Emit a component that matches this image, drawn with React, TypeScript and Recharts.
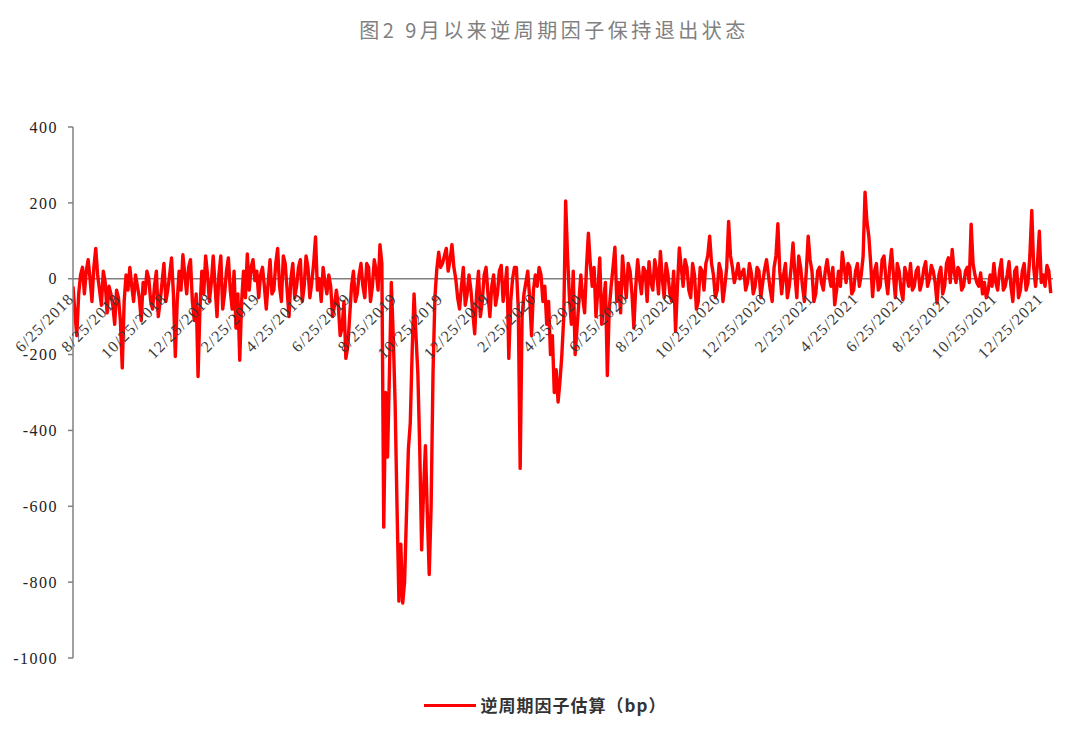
import React from 'react';
import { LineChart, Line, XAxis, YAxis, ReferenceLine, ReferenceDot } from 'recharts';

const chartTitle = '图2 9月以来逆周期因子保持退出状态';
const seriesName = '逆周期因子估算（bp）';
const startDate = '6/25/2018';
const stepDays = 2.5;

// counter-cyclical factor estimate (bp), one reading every 2.5 calendar days from 6/25/2018
const factorValues = [
  -20, -90, -150, -40, 10, 30, -40, 20, 50, 0, -60, 30, 80, 10, -30, -70, 20, -10, -90, -20, -40, -70, -120, -30, -50, -110,
  -235, -60, 10, -30, 30, -20, -60, 10, -20, -50, -110, -10, -40, 20, 0, -60, -80, -20, 20, -100, -60, -10, 40, -60,
  -30, 10, 55, -40, -205, -60, 20, -30, 63, 10, -40, 30, 50, -60, -110, -40, -258, -80, 20, -40, 60, 10, -60, -10,
  60, -20, -100, 10, 60, -80, -40, 20, 55, -30, -80, 20, -130, -40, -215, -60, 20, -50, 65, -30, 30, 50, -5, 20,
  -50, 10, 30, -20, -80, -10, 50, -40, -30, 40, 80, -20, -60, 60, 40, -30, -100, 0, 40, -50, -20, 30, 50, -60,
  -20, 60, 30, -50, -10, 40, 110, -30, 0, -60, 30, -10, -40, 10, -20, -100, -70, -30,
  -70, -150, -130, -60, -210, -180, -100, -20, 20, -60, -40, 10, 40, -20, -50, 40, 30, -60, -20, 50, 20, -30, 90, 40,
  -655, -300, -470, -250, -10, -150, -330, -600, -850, -700, -855, -800, -620, -450, -380, -190, -40, -150, -250, -450, -715, -560, -440, -620, -780, -600, -250, -50, 25, 70,
  30, 40, 60, 80, 20, 50, 90, 30, 0, -50, -80, -20, 30, -70, -40, 10, -30, -90, -145, -40, 20, -100, -60, 10, 30, -40, -100, -20,
  10, -70, -40, 20, 35, -60, -20, 30, -210, -60, 0, 30, 30, -80, -500, -100, -40, -10, 20, -50, -150, -30, 10, -20, 30, 10, -60, -20,
  -120, -60, -200, -150, -300, -240, -325, -270, -200, -100, 205, 60, -50, -120, 20, -200, -130, -60, 10, -50, -90, 30, 120, 40,
  -20, 30, -100, -30, 55, -120, -60, -10, -255, -80, -20, 30, 83, -60, -10, -90, 60, 0, -50, 40, 20, -40, -130, -20,
  50, 0, -40, 30, 20, -60, 45, -10, -30, 50, 20, -40, 72, 0, -50, 40, 10, -40, -60, 20, -139, -20, 81, 30,
  -20, 50, 30, -30, -50, 40, 10, -80, -60, 30, 20, -30, 40, 60, 112, 40, 10, -50, -30, 40, 20, -60, -20, 30,
  151, 60, 30, -10, 10, 40, 0, 15, 25, -30, -10, 40, 15, -40, -20, 30, 20, -50, -10, 25, 50, 10, -30, -60,
  30, 60, 145, 20, -40, 10, 40, -50, -20, 30, 94, 10, -50, 60, 30, -20, -60, 20, 112, 50, 20, -60, -40, 20,
  30, -10, -30, 20, 50, 10, -20, 30, -69, -30, 20, -20, 70, 30, -10, 40, 30, -40, -30, 20, 40, -20, 10, 60,
  228, 150, 112, 40, -47, 20, 40, -30, -20, 50, 60, 0, -40, 30, 77, 10, -50, 40, 20, -30, -55, 30, 10, -20,
  40, -30, -20, 20, 30, -30, -10, 25, 45, -20, 0, 35, 20, -10, -64, 10, 30, -40, -20, 40, 55, -10, 77, 20,
  -10, 30, 20, -30, -20, 20, 30, -10, 144, 40, 10, -10, -20, 15, -40, -10, -50, -30, 10, -20, 40, -10, -30, 20,
  50, -30, -20, 10, 45, -20, -60, 20, 30, -50, -30, 20, 40, -30, -10, 60, 180, 30, -20, 40, 125, -10, 10, -20, 35, 20, -38,
];

const xTickLabels = [
  '6/25/2018', '8/25/2018', '10/25/2018', '12/25/2018',
  '2/25/2019', '4/25/2019', '6/25/2019', '8/25/2019', '10/25/2019', '12/25/2019',
  '2/25/2020', '4/25/2020', '6/25/2020', '8/25/2020', '10/25/2020', '12/25/2020',
  '2/25/2021', '4/25/2021', '6/25/2021', '8/25/2021', '10/25/2021', '12/25/2021',
];

const yTicks = [-1000, -800, -600, -400, -200, 0, 200, 400];
const xDomainEnd = 1293;

const toUtc = (label: string) => {
  const [m, d, y] = label.split('/').map(Number);
  return Date.UTC(y, m - 1, d);
};
const dayOf = (label: string) => Math.round((toUtc(label) - toUtc(startDate)) / 86400000);

const data = factorValues.map((v, i) => ({ day: i * stepDays, value: v }));
const xTicks = xTickLabels.map((label) => ({ label, day: dayOf(label) }));

const serif = '"Liberation Serif", "DejaVu Serif", serif';
const cjk = '"Noto Sans CJK SC", "Noto Sans", sans-serif';

const YTick = (props: any) => {
  const { x, y, payload } = props;
  return (
    <text x={x} y={y} dy="0.36em" textAnchor="end" fill="#222" fontFamily={serif} fontSize={16} letterSpacing={1.5}>
      {payload.value}
    </text>
  );
};

const makeXLabel = (text: string) => (props: any) => {
  const vb = props.viewBox || {};
  const ax = (vb.x ?? 0) + 2;
  const ay = (vb.y ?? 0) + 21;
  return (
    <text
      x={ax}
      y={ay}
      textAnchor="end"
      fill="#3a3a3a"
      fontFamily={serif}
      fontSize={16}
      letterSpacing={1.2}
      transform={`rotate(-45 ${ax} ${ay})`}
    >
      {text}
    </text>
  );
};

export default function App() {
  return (
    <div style={{ position: 'absolute', left: 0, top: 0, width: 1078, height: 738, background: '#fff', overflow: 'hidden' }}>
      <div
        style={{
          position: 'absolute', left: 0, top: 20, width: 1108, textAlign: 'center',
          fontFamily: cjk, fontSize: 20, lineHeight: '20px', color: '#808080', letterSpacing: 3.5,
        }}
      >
        {chartTitle}
      </div>
      <LineChart width={1078} height={738} data={data} margin={{ top: 127, right: 25, bottom: 80, left: 0 }}>
        <XAxis type="number" dataKey="day" domain={[0, xDomainEnd]} hide allowDataOverflow />
        <YAxis
          type="number"
          domain={[-1000, 400]}
          ticks={yTicks}
          width={73}
          axisLine={{ stroke: '#808080', strokeWidth: 1.5 }}
          tickLine={{ stroke: '#808080', strokeWidth: 1.5 }}
          tickSize={5}
          tickMargin={10}
          tick={<YTick />}
          interval={0}
        />
        <ReferenceLine y={0} stroke="#808080" strokeWidth={1.5} />
        <Line
          type="linear"
          dataKey="value"
          name={seriesName}
          stroke="#ff0000"
          strokeWidth={3.4}
          strokeLinejoin="round"
          dot={false}
          isAnimationActive={false}
        />
        {xTicks.map((t) => (
          <ReferenceDot
            key={t.label}
            x={t.day}
            y={0}
            r={0}
            fill="none"
            stroke="none"
            label={makeXLabel(t.label)}
          />
        ))}
      </LineChart>
      <div
        style={{
          position: 'absolute', left: 0, top: 694, width: 1078, display: 'flex', justifyContent: 'center', alignItems: 'center',
        }}
      >
        <div style={{ width: 52, height: 3, background: '#ff0000', marginRight: 5, marginLeft: 12 }} />
        <div style={{ fontFamily: cjk, fontSize: 17, fontWeight: 700, color: '#333', letterSpacing: 1, lineHeight: '22px' }}>
          {seriesName}
        </div>
      </div>
    </div>
  );
}
